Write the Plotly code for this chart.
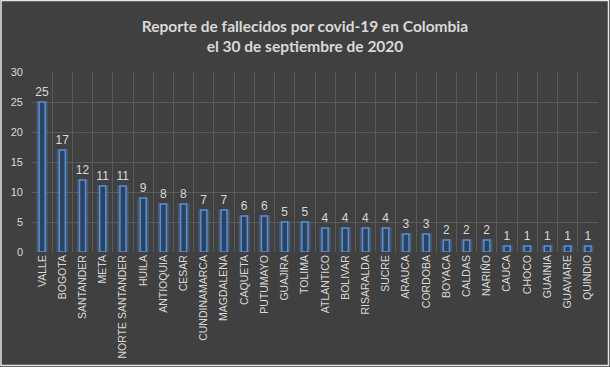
import plotly.graph_objects as go

departamentos = ["VALLE", "BOGOTA", "SANTANDER", "META", "NORTE SANTANDER", "HUILA",
                 "ANTIOQUIA", "CESAR", "CUNDINAMARCA", "MAGDALENA", "CAQUETA", "PUTUMAYO",
                 "GUAJIRA", "TOLIMA", "ATLANTICO", "BOLIVAR", "RISARALDA", "SUCRE",
                 "ARAUCA", "CORDOBA", "BOYACA", "CALDAS", "NARIÑO", "CAUCA", "CHOCO",
                 "GUAINIA", "GUAVIARE", "QUINDIO"]
fallecidos = [25, 17, 12, 11, 11, 9, 8, 8, 7, 7, 6, 6, 5, 5, 4, 4, 4, 4, 3, 3,
              2, 2, 2, 1, 1, 1, 1, 1]
y_ticks = [0, 5, 10, 15, 20, 25, 30]

fig = go.Figure()
# glow
fig.add_trace(go.Bar(x=departamentos, y=fallecidos, width=0.48,
                     marker=dict(color="rgba(79,129,189,0.2)",
                                 line=dict(color="rgba(79,129,189,0.28)", width=2)),
                     hoverinfo="skip", showlegend=False))
fig.add_trace(go.Bar(x=departamentos, y=fallecidos, width=0.3,
                     marker=dict(color="#2b4262", line=dict(color="#5b8fd0", width=1.5)),
                     text=fallecidos, textposition="outside", cliponaxis=False,
                     constraintext="none",
                     textfont=dict(color="#d9d9d9", size=12, family="Liberation Sans"),
                     showlegend=False))

fig.update_layout(
    width=610, height=367,
    paper_bgcolor="#404040", plot_bgcolor="rgba(0,0,0,0)",
    barmode="overlay",
    margin=dict(l=32, r=12, t=72, b=115, autoexpand=False),
    title=dict(text="Reporte de fallecidos por covid-19 en Colombia<br>el 30 de septiembre de 2020",
               x=0.5, xanchor="center", y=0.914, yanchor="top",
               font=dict(family="Lato", size=15.5, color="#d9d9d9", weight="bold")),
    font=dict(family="Liberation Sans", color="#d9d9d9", size=11),
    shapes=[dict(type="rect", xref="paper", yref="paper",
                 x0=(1 - 32) / 566, x1=(608.5 - 32) / 566,
                 y0=(252 - 365.5) / 180, y1=(252 - 0.5) / 180,
                 line=dict(color="#e6e6e6", width=1.5), fillcolor="rgba(0,0,0,0)")],
)
fig.update_xaxes(type="category", tickson="boundaries", showgrid=True, gridcolor="#5a5a5a",
                 gridwidth=1, tickangle=-90, ticks="", showline=False, automargin=False,
                 tickfont=dict(size=10.5, color="#d9d9d9"), zeroline=False)
fig.update_yaxes(range=[0, 30], tickvals=y_ticks, showgrid=True, gridcolor="#5a5a5a",
                 gridwidth=1, zeroline=False, ticks="", showline=False, automargin=False,
                 ticklabelstandoff=8, tickfont=dict(size=11, color="#d9d9d9"))

fig.write_html("out.html", config={"displayModeBar": False},
               post_script="document.body.style.margin='0';")
